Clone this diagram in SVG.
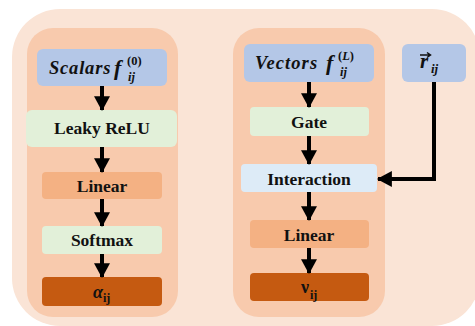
<svg xmlns="http://www.w3.org/2000/svg" width="475" height="326" viewBox="0 0 475 326">
  <defs>
    <marker id="head" markerUnits="userSpaceOnUse" markerWidth="16" markerHeight="16" viewBox="0 0 14 15" refX="13" refY="7.5" orient="auto">
      <path d="M0,0 L14,7.5 L0,15 Z" fill="#000"/>
    </marker>
  </defs>
  <style>
    .panel { fill: #F8CAAD; }
    .input { fill: #B4C7E7; }
    .act { fill: #E2F0D9; }
    .lin { fill: #F4B183; }
    .out { fill: #C55A11; }
    .inter { fill: #DDEBF7; }
    .lbl { font-family: "Liberation Serif", "DejaVu Serif", serif; font-weight: bold; font-size: 17.5px; fill: #111; text-anchor: middle; }
    .math { font-family: "Liberation Serif", "DejaVu Serif", serif; font-weight: bold; font-style: italic; fill: #111; }
    .up { font-family: "Liberation Serif", "DejaVu Serif", serif; font-weight: bold; fill: #111; }
    .edge { stroke: #000; stroke-width: 4; fill: none; marker-end: url(#head); }
  </style>

  <!-- background card -->
  <rect x="12" y="9" width="468" height="317" rx="48" fill="#FAE4D6"/>

  <!-- column panels -->
  <rect class="panel" x="27" y="28" width="151" height="289" rx="26"/>
  <rect class="panel" x="233" y="28" width="152" height="289" rx="26"/>

  <!-- scalar branch -->
  <g id="scalars">
    <rect class="input" x="37" y="49" width="130" height="37" rx="6"/>
    <text class="math" x="49" y="74" font-size="18.5" letter-spacing="0.8">Scalars</text>
    <text class="math" x="114" y="75" font-size="22">f</text>
    <text class="up" x="127" y="65" font-size="12.5">(0)</text>
    <text class="math" x="128" y="81" font-size="12.5">ij</text>
  </g>
  <g id="leaky-relu">
    <rect class="act" x="26" y="110" width="151" height="37" rx="6"/>
    <text class="lbl" x="102" y="134">Leaky ReLU</text>
  </g>
  <g id="linear-s">
    <rect class="lin" x="42" y="172" width="120" height="27" rx="4"/>
    <text class="lbl" x="102" y="192">Linear</text>
  </g>
  <g id="softmax">
    <rect class="act" x="42" y="226" width="120" height="28" rx="4"/>
    <text class="lbl" x="102" y="246">Softmax</text>
  </g>
  <g id="alpha">
    <rect class="out" x="42" y="277" width="120" height="29" rx="4"/>
    <text class="math" x="93" y="298" font-size="18">α</text>
    <text class="up" x="103" y="302" font-size="12">ij</text>
  </g>

  <!-- vector branch -->
  <g id="vectors">
    <rect class="input" x="244" y="44" width="130" height="38" rx="6"/>
    <text class="math" x="255" y="69" font-size="18.5" letter-spacing="1.1">Vectors</text>
    <text class="math" x="326" y="70" font-size="22">f</text>
    <text class="up" x="338" y="60" font-size="12.5">(<tspan class="math">L</tspan>)</text>
    <text class="math" x="340" y="76" font-size="12.5">ij</text>
  </g>
  <g id="r-ij">
    <rect class="input" x="402" y="44" width="64" height="38" rx="6"/>
    <text class="math" x="420" y="68" font-size="21">r</text>
    <text class="math" x="431" y="73" font-size="13">ij</text>
    <path d="M420,55 H430 M427,52.5 L430.5,55 L427,57.5" stroke="#111" stroke-width="1.5" fill="none"/>
  </g>
  <g id="gate">
    <rect class="act" x="250" y="107" width="119" height="29" rx="4"/>
    <text class="lbl" x="309" y="128">Gate</text>
  </g>
  <g id="interaction">
    <rect class="inter" x="241" y="164" width="136" height="28" rx="4"/>
    <text class="lbl" x="309" y="185">Interaction</text>
  </g>
  <g id="linear-v">
    <rect class="lin" x="250" y="220" width="119" height="28" rx="4"/>
    <text class="lbl" x="309" y="241">Linear</text>
  </g>
  <g id="nu">
    <rect class="out" x="250" y="273" width="119" height="28" rx="4"/>
    <text class="up" x="301" y="293" font-size="18">ν</text>
    <text class="up" x="310" y="299" font-size="12">ij</text>
  </g>

  <!-- connectors -->
  <g id="connectors">
    <line class="edge" x1="102" y1="86" x2="102" y2="110"/>
    <line class="edge" x1="102" y1="147" x2="102" y2="172"/>
    <line class="edge" x1="102" y1="199" x2="102" y2="226"/>
    <line class="edge" x1="102" y1="254" x2="102" y2="277"/>
    <line class="edge" x1="309" y1="82" x2="309" y2="107"/>
    <line class="edge" x1="309" y1="136" x2="309" y2="164"/>
    <line class="edge" x1="309" y1="192" x2="309" y2="220"/>
    <line class="edge" x1="309" y1="248" x2="309" y2="273"/>
    <path class="edge" d="M434,82 V179 H378" stroke-linejoin="miter"/>
  </g>
</svg>
